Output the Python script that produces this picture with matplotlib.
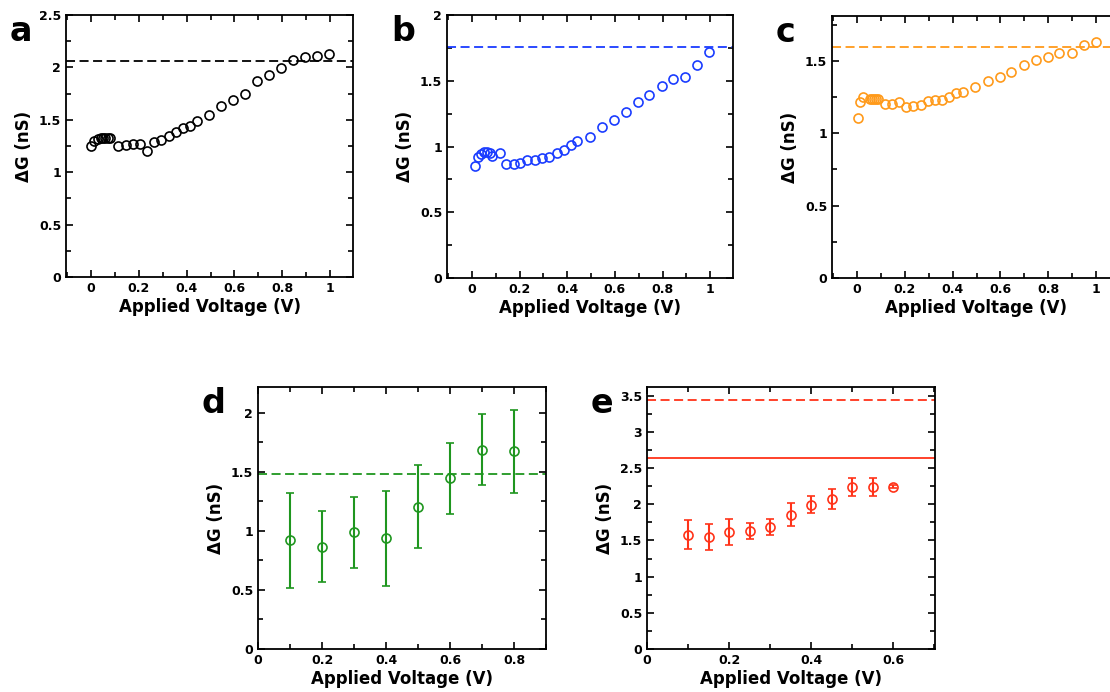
import numpy as np
import matplotlib
matplotlib.use("Agg")
import matplotlib.pyplot as plt
from matplotlib.ticker import MultipleLocator, FormatStrFormatter

# ---- data ----
# panel a (black)
xa = [0, 0.014, 0.03, 0.04, 0.05, 0.06, 0.07, 0.08,
      0.112, 0.144, 0.175, 0.203, 0.233, 0.263, 0.294, 0.324, 0.354, 0.385, 0.413, 0.443,
      0.494, 0.544, 0.594, 0.643, 0.695, 0.744, 0.793, 0.843, 0.895, 0.944, 0.994]
ya = [1.25, 1.30, 1.32, 1.33, 1.33, 1.33, 1.33, 1.33,
      1.25, 1.26, 1.27, 1.27, 1.20, 1.29, 1.31, 1.35, 1.38, 1.42, 1.44, 1.49,
      1.55, 1.63, 1.69, 1.75, 1.87, 1.93, 1.99, 2.07, 2.10, 2.11, 2.13]
ref_a = 2.065

# panel b (blue)
xb = [0.011, 0.024, 0.038, 0.052, 0.063, 0.074, 0.084, 0.116,
      0.144, 0.175, 0.203, 0.233, 0.264, 0.294, 0.324, 0.355, 0.385, 0.414, 0.443,
      0.495, 0.545, 0.596, 0.645, 0.695, 0.745, 0.796, 0.846, 0.895, 0.945, 0.997]
yb = [0.854, 0.92, 0.94, 0.956, 0.956, 0.95, 0.928, 0.954,
      0.869, 0.869, 0.877, 0.90, 0.90, 0.913, 0.923, 0.951, 0.974, 1.01, 1.04,
      1.07, 1.15, 1.20, 1.26, 1.34, 1.39, 1.46, 1.51, 1.53, 1.62, 1.72]
ref_b = 1.755

# panel c (orange)
xc = [0.003, 0.014, 0.024, 0.053, 0.062, 0.07, 0.08, 0.088,
      0.115, 0.145, 0.176, 0.204, 0.235, 0.266, 0.295, 0.326, 0.355, 0.386, 0.415, 0.445,
      0.495, 0.547, 0.597, 0.646, 0.697, 0.747, 0.797, 0.846, 0.898, 0.948, 0.999]
yc = [1.106, 1.219, 1.247, 1.24, 1.24, 1.24, 1.24, 1.24,
      1.20, 1.20, 1.219, 1.18, 1.19, 1.196, 1.221, 1.228, 1.233, 1.251, 1.281, 1.288,
      1.32, 1.362, 1.387, 1.424, 1.47, 1.507, 1.53, 1.555, 1.555, 1.608, 1.627]
ref_c = 1.597

# panel d (green, with error bars)
xd = [0.1, 0.2, 0.3, 0.4, 0.5, 0.6, 0.7, 0.8]
yd = [0.92, 0.866, 0.99, 0.937, 1.207, 1.446, 1.688, 1.676]
ed = [0.40, 0.30, 0.30, 0.40, 0.35, 0.30, 0.30, 0.35]
ref_d = 1.482

# panel e (red, with error bars)
xe = [0.1, 0.15, 0.2, 0.25, 0.3, 0.35, 0.4, 0.45, 0.5, 0.55, 0.6]
ye = [1.578, 1.541, 1.615, 1.633, 1.688, 1.858, 1.996, 2.075, 2.236, 2.236, 2.245]
ee = [0.20, 0.18, 0.18, 0.11, 0.11, 0.16, 0.12, 0.14, 0.12, 0.12, 0.02]
ref_e_dash = 3.44
ref_e_solid = 2.645

BLACK = "black"
BLUE = "#1a3cff"
ORANGE = "#ff9a1a"
GREEN = "#1f961f"
RED = "#ff3319"

plt.rcParams["font.family"] = "DejaVu Sans"
plt.rcParams["font.weight"] = "bold"

fig = plt.figure(figsize=(11.1, 6.92), dpi=100)
W, H = 1110, 692


def make_ax(left, top, right, bottom):
    return fig.add_axes([left / W, 1 - bottom / H, (right - left) / W, (bottom - top) / H])


def style(ax, xlim, ylim, letter):
    ax.set_xlim(*xlim)
    ax.set_ylim(*ylim)
    ax.xaxis.set_major_locator(MultipleLocator(0.2))
    ax.xaxis.set_minor_locator(MultipleLocator(0.1))
    ax.yaxis.set_major_locator(MultipleLocator(0.5))
    ax.yaxis.set_minor_locator(MultipleLocator(0.25))
    ax.xaxis.set_major_formatter(FormatStrFormatter("%g"))
    ax.yaxis.set_major_formatter(FormatStrFormatter("%g"))
    ax.tick_params(which="both", direction="in", top=True, right=True, width=1.2)
    ax.tick_params(which="major", length=5, labelsize=9)
    ax.tick_params(which="minor", length=3.5)
    for s in ax.spines.values():
        s.set_linewidth(1.3)
    ax.set_xlabel("Applied Voltage (V)", fontsize=12, fontweight="bold", labelpad=2)
    ax.set_ylabel("ΔG (nS)", fontsize=12, fontweight="bold", labelpad=4)
    for t in ax.get_xticklabels() + ax.get_yticklabels():
        t.set_fontweight("bold")
    ax.text(-0.195, 1.0, letter, transform=ax.transAxes, fontsize=24,
            fontweight="bold", va="top", ha="left")


mk = dict(marker="o", mfc="none", ms=6.5, mew=1.2, ls="none")
dash = dict(ls=(0, (5, 2.5)), lw=1.3)

# a
ax = make_ax(66, 15, 353, 277)
ax.plot(xa, ya, color=BLACK, **mk)
ax.axhline(ref_a, color=BLACK, **dash)
style(ax, (-0.105, 1.096), (0, 2.5), "a")

# b
ax = make_ax(447, 15, 733, 278)
ax.plot(xb, yb, color=BLUE, **mk)
ax.axhline(ref_b, color=BLUE, **dash)
style(ax, (-0.105, 1.096), (0, 2.0), "b")

# c (runs past the right edge of the figure)
ax = make_ax(832, 16, 1119, 278)
ax.plot(xc, yc, color=ORANGE, **mk)
ax.axhline(ref_c, color=ORANGE, **dash)
style(ax, (-0.105, 1.096), (0, 1.81), "c")

# d
ax = make_ax(258, 387, 546, 649)
ax.errorbar(xd, yd, yerr=ed, color=GREEN, capsize=3, elinewidth=1.5, capthick=1.5,
            **mk)
ax.axhline(ref_d, color=GREEN, **dash)
style(ax, (0, 0.9), (0, 2.22), "d")

# e
ax = make_ax(647, 387, 935, 649)
ax.errorbar(xe, ye, yerr=ee, color=RED, capsize=3, elinewidth=1.5, capthick=1.5,
            **mk)
ax.axhline(ref_e_dash, color=RED, **dash)
ax.axhline(ref_e_solid, color=RED, lw=1.3)
style(ax, (0, 0.702), (0, 3.62), "e")

fig.savefig("out.png", dpi=100)
